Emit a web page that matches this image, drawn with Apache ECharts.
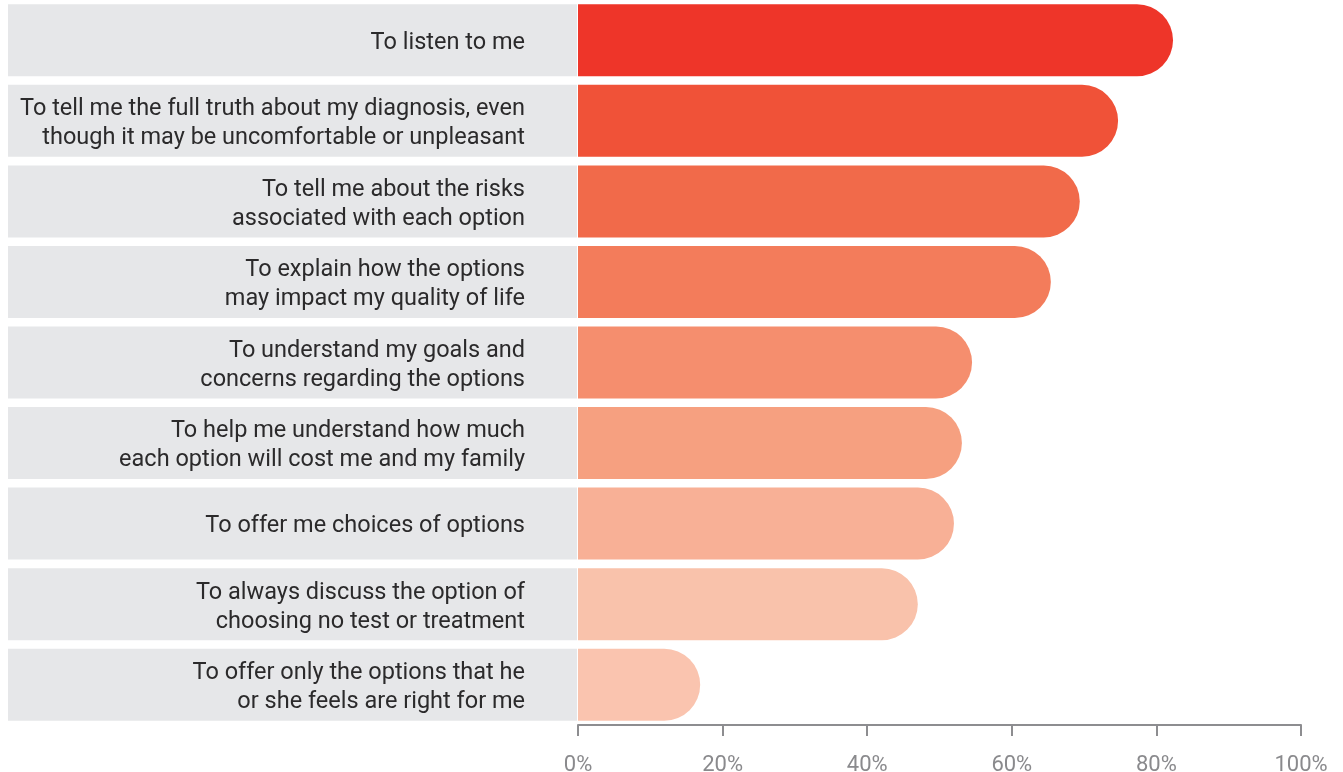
<!DOCTYPE html>
<html>
<head>
<meta charset="utf-8">
<script src="https://cdn.jsdelivr.net/npm/echarts@6/dist/echarts.min.js"></script>
<style>
html,body{margin:0;padding:0;background:#fff;}
#chart{width:1343px;height:772px;}
</style>
</head>
<body>
<div id="chart"></div>
<script>
var categories = [
  "To listen to me",
  "To tell me the full truth about my diagnosis, even\nthough it may be uncomfortable or unpleasant",
  "To tell me about the risks\nassociated with each option",
  "To explain how the options\nmay impact my quality of life",
  "To understand my goals and\nconcerns regarding the options",
  "To help me understand how much\neach option will cost me and my family",
  "To offer me choices of options",
  "To always discuss the option of\nchoosing no test or treatment",
  "To offer only the options that he\nor she feels are right for me"
];
var values = [82.3, 74.7, 69.4, 65.4, 54.5, 53.1, 52.0, 47.0, 16.9];
var barColors = ["#ee3529", "#f05238", "#f16a4a", "#f37c5b", "#f58e6e", "#f6a080", "#f8b096", "#f9c2ab", "#fac4af"];
var tickValues = [0, 20, 40, 60, 80, 100];
var labelBoxes = [1, 1, 1, 1, 1, 1, 1, 1, 1];

var chart = echarts.init(document.getElementById('chart'));
var font = 'Roboto, "Noto Sans", sans-serif';
chart.setOption({
  animation: false,
  grid: [
    {left: 578, right: 42, top: 0, height: 725, containLabel: false, outerBoundsMode: 'none'},
    {left: 8, width: 569, top: 0, height: 725, containLabel: false, outerBoundsMode: 'none'}
  ],
  xAxis: [
    {
      gridIndex: 0, type: 'value', min: 0, max: 100, interval: 20,
      splitLine: {show: false},
      axisLine: {show: true, lineStyle: {color: '#8d8d90', width: 2}},
      axisTick: {show: true, length: 11, lineStyle: {color: '#8d8d90', width: 2}},
      axisLabel: {formatter: '{value}%', color: '#8a8a8d', fontSize: 22, fontFamily: font, margin: 29}
    },
    {gridIndex: 1, type: 'value', min: 0, max: 1, show: false}
  ],
  yAxis: [
    {
      gridIndex: 0, type: 'category', data: categories, inverse: true,
      axisLine: {show: false}, axisTick: {show: false}, axisLabel: {show: false}
    },
    {gridIndex: 1, type: 'category', data: categories, inverse: true, show: false}
  ],
  series: [
    {
      type: 'bar', xAxisIndex: 1, yAxisIndex: 1, data: labelBoxes, barWidth: 72, silent: true,
      itemStyle: {color: '#e6e7e9'}, z: 1,
      label: {
        show: true, position: 'insideRight', distance: 52, offset: [0, 3],
        formatter: '{b}', color: '#2b2a2b', fontSize: 23.5, fontFamily: font,
        lineHeight: 29, align: 'right'
      }
    },
    {
      type: 'bar', xAxisIndex: 0, yAxisIndex: 0, barWidth: 72,
      data: values.map(function (v, i) {
        return {value: v, itemStyle: {color: barColors[i]}};
      }),
      itemStyle: {borderRadius: [0, 36, 36, 0]}, z: 2
    }
  ]
});
</script>
</body>
</html>
